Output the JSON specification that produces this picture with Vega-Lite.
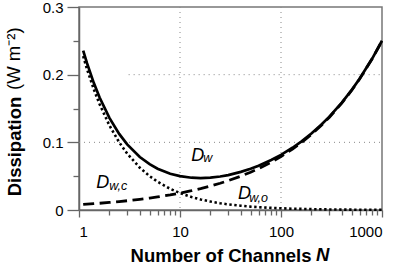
{
  "$schema": "https://vega.github.io/schema/vega-lite/v6.json",
  "width": 303,
  "height": 203,
  "autosize": {"type": "none"},
  "padding": {"left": 79, "top": 7, "right": 17, "bottom": 56},
  "config": {
    "view": {"stroke": "#777", "strokeWidth": 1.5},
    "font": "Liberation Sans",
    "axis": {
      "domainColor": "#666", "domainWidth": 1.5, "tickColor": "#666", "tickWidth": 1.3,
      "labelColor": "#000", "labelFont": "Liberation Sans", "labelFontSize": 15,
      "titleFont": "Liberation Sans", "titleColor": "#000", "grid": false
    }
  },
  "datasets": {
    "curves": [
      {"N": 1.1, "Dwo": 0.2273, "Dwc": 0.0083, "Dw": 0.2356},
      {"N": 1.2, "Dwo": 0.2083, "Dwc": 0.0087, "Dw": 0.2170},
      {"N": 1.4, "Dwo": 0.1786, "Dwc": 0.0093, "Dw": 0.1879},
      {"N": 1.6, "Dwo": 0.1563, "Dwc": 0.0100, "Dw": 0.1663},
      {"N": 2, "Dwo": 0.1250, "Dwc": 0.0112, "Dw": 0.1362},
      {"N": 2.5, "Dwo": 0.1000, "Dwc": 0.0125, "Dw": 0.1125},
      {"N": 3, "Dwo": 0.0833, "Dwc": 0.0137, "Dw": 0.0970},
      {"N": 4, "Dwo": 0.0625, "Dwc": 0.0158, "Dw": 0.0783},
      {"N": 5, "Dwo": 0.0500, "Dwc": 0.0177, "Dw": 0.0677},
      {"N": 6, "Dwo": 0.0417, "Dwc": 0.0194, "Dw": 0.0611},
      {"N": 8, "Dwo": 0.0313, "Dwc": 0.0223, "Dw": 0.0536},
      {"N": 10, "Dwo": 0.0250, "Dwc": 0.0250, "Dw": 0.0500},
      {"N": 13, "Dwo": 0.0192, "Dwc": 0.0285, "Dw": 0.0477},
      {"N": 16, "Dwo": 0.0156, "Dwc": 0.0316, "Dw": 0.0472},
      {"N": 20, "Dwo": 0.0125, "Dwc": 0.0353, "Dw": 0.0478},
      {"N": 25, "Dwo": 0.0100, "Dwc": 0.0395, "Dw": 0.0495},
      {"N": 30, "Dwo": 0.0083, "Dwc": 0.0433, "Dw": 0.0516},
      {"N": 40, "Dwo": 0.0063, "Dwc": 0.0500, "Dw": 0.0563},
      {"N": 50, "Dwo": 0.0050, "Dwc": 0.0559, "Dw": 0.0609},
      {"N": 60, "Dwo": 0.0042, "Dwc": 0.0612, "Dw": 0.0654},
      {"N": 80, "Dwo": 0.0031, "Dwc": 0.0707, "Dw": 0.0738},
      {"N": 100, "Dwo": 0.0025, "Dwc": 0.0790, "Dw": 0.0815},
      {"N": 130, "Dwo": 0.0019, "Dwc": 0.0901, "Dw": 0.0920},
      {"N": 160, "Dwo": 0.0016, "Dwc": 0.0999, "Dw": 0.1015},
      {"N": 200, "Dwo": 0.0013, "Dwc": 0.1117, "Dw": 0.1130},
      {"N": 250, "Dwo": 0.0010, "Dwc": 0.1249, "Dw": 0.1259},
      {"N": 300, "Dwo": 0.0008, "Dwc": 0.1368, "Dw": 0.1376},
      {"N": 400, "Dwo": 0.0006, "Dwc": 0.1580, "Dw": 0.1586},
      {"N": 500, "Dwo": 0.0005, "Dwc": 0.1767, "Dw": 0.1772},
      {"N": 600, "Dwo": 0.0004, "Dwc": 0.1935, "Dw": 0.1939},
      {"N": 800, "Dwo": 0.0003, "Dwc": 0.2235, "Dw": 0.2238},
      {"N": 1000, "Dwo": 0.0003, "Dwc": 0.2498, "Dw": 0.2501}
    ],
    "mainLabels": [
      {"N": 12.9, "v": 0.0729, "t": "D"},
      {"N": 1.483, "v": 0.0325, "t": "D"},
      {"N": 37.6, "v": 0.0163, "t": "D"}
    ],
    "subLabels": [
      {"N": 16.96, "v": 0.0706, "t": "w"},
      {"N": 1.994, "v": 0.030, "t": "w,c"},
      {"N": 48.4, "v": 0.0112, "t": "w,o"}
    ]
  },
  "layer": [
    {
      "data": {"values": [{"N": 10}, {"N": 100}]},
      "mark": {"type": "rule", "color": "#888", "strokeWidth": 1, "strokeDash": [1, 4]},
      "encoding": {
        "x": {"field": "N", "type": "quantitative", "scale": {"type": "log", "domain": [1, 1000]},
          "axis": {"orient": "bottom", "values": [2,3,4,5,6,7,8,9,20,30,40,50,60,70,80,90,200,300,400,500,600,700,800,900],
            "labels": false, "tickSize": 5, "domain": false, "title": null, "grid": false}}
      }
    },
    {
      "data": {"values": [{"v": 0.1, "a": 1, "b": 1000}, {"v": 0.2, "a": 3.1, "b": 1000}]},
      "mark": {"type": "rule", "color": "#888", "strokeWidth": 1, "strokeDash": [1, 4]},
      "encoding": {
        "y": {"field": "v", "type": "quantitative", "scale": {"domain": [0, 0.3], "nice": false},
          "axis": {"orient": "left", "values": [0.05, 0.15, 0.25], "labels": false, "tickSize": 6, "domain": false, "title": null, "grid": false}},
        "x": {"field": "a", "type": "quantitative", "scale": {"type": "log", "domain": [1, 1000]}, "axis": null},
        "x2": {"field": "b"}
      }
    },
    {
      "data": {"name": "curves"},
      "mark": {"type": "line", "color": "#000", "strokeWidth": 2.6, "strokeDash": [2.4, 2.6]},
      "encoding": {
        "x": {"field": "N", "type": "quantitative", "scale": {"type": "log", "domain": [1, 1000]}, "axis": null},
        "y": {"field": "Dwo", "type": "quantitative", "scale": {"domain": [0, 0.3], "nice": false}, "axis": null}
      }
    },
    {
      "data": {"name": "curves"},
      "mark": {"type": "line", "color": "#000", "strokeWidth": 2.8, "strokeDash": [11, 5.5]},
      "encoding": {
        "x": {"field": "N", "type": "quantitative", "scale": {"type": "log", "domain": [1, 1000]}, "axis": null},
        "y": {"field": "Dwc", "type": "quantitative", "scale": {"domain": [0, 0.3], "nice": false}, "axis": null}
      }
    },
    {
      "data": {"name": "curves"},
      "mark": {"type": "line", "color": "#000", "strokeWidth": 2.7},
      "encoding": {
        "x": {"field": "N", "type": "quantitative", "scale": {"type": "log", "domain": [1, 1000]},
          "axis": {"orient": "bottom", "values": [1, 10, 100, 1000], "format": "d", "tickSize": 7, "labelPadding": 7,
            "title": "Number of Channels", "titleFontSize": 18.5, "titleFontWeight": "bold",
            "titleX": 141.5, "titleY": 51, "titleAlign": "center", "titleBaseline": "alphabetic"}},
        "y": {"field": "Dw", "type": "quantitative", "scale": {"domain": [0, 0.3], "nice": false},
          "axis": {"orient": "left", "values": [0, 0.1, 0.2, 0.3], "format": ".1~f", "tickSize": 12, "labelPadding": 4,
            "title": "Dissipation", "titleFontSize": 18.5, "titleFontWeight": "bold",
            "titleX": -58.7, "titleY": 139, "titleAngle": 270, "titleAlign": "center", "titleBaseline": "alphabetic"}}
      }
    },
    {
      "data": {"name": "mainLabels"},
      "mark": {"type": "text", "fontSize": 18, "fontStyle": "italic", "align": "left", "baseline": "alphabetic", "color": "#000"},
      "encoding": {
        "x": {"field": "N", "type": "quantitative", "scale": {"type": "log", "domain": [1, 1000]}, "axis": null},
        "y": {"field": "v", "type": "quantitative", "scale": {"domain": [0, 0.3], "nice": false}, "axis": null},
        "text": {"field": "t"}
      }
    },
    {
      "data": {"name": "subLabels"},
      "mark": {"type": "text", "fontSize": 12.5, "fontStyle": "italic", "align": "left", "baseline": "alphabetic", "color": "#000"},
      "encoding": {
        "x": {"field": "N", "type": "quantitative", "scale": {"type": "log", "domain": [1, 1000]}, "axis": null},
        "y": {"field": "v", "type": "quantitative", "scale": {"domain": [0, 0.3], "nice": false}, "axis": null},
        "text": {"field": "t"}
      }
    },
    {
      "data": {"values": [{"N": 0.2627, "v": 0.2236, "t": "(W m⁻²)"}]},
      "mark": {"type": "text", "fontSize": 18.5, "angle": 270, "align": "center", "baseline": "alphabetic", "color": "#000"},
      "encoding": {
        "x": {"field": "N", "type": "quantitative", "scale": {"type": "log", "domain": [1, 1000]}, "axis": null},
        "y": {"field": "v", "type": "quantitative", "scale": {"domain": [0, 0.3], "nice": false}, "axis": null},
        "text": {"field": "t"}
      }
    },
    {
      "data": {"values": [{"N": 222, "v": -0.0749, "t": "N"}]},
      "mark": {"type": "text", "fontSize": 18.5, "fontStyle": "italic", "fontWeight": "bold", "align": "left", "baseline": "alphabetic", "color": "#000"},
      "encoding": {
        "x": {"field": "N", "type": "quantitative", "scale": {"type": "log", "domain": [1, 1000]}, "axis": null},
        "y": {"field": "v", "type": "quantitative", "scale": {"domain": [0, 0.3], "nice": false}, "axis": null},
        "text": {"field": "t"}
      }
    }
  ],
  "resolve": {"axis": {"x": "independent", "y": "independent"}}
}
